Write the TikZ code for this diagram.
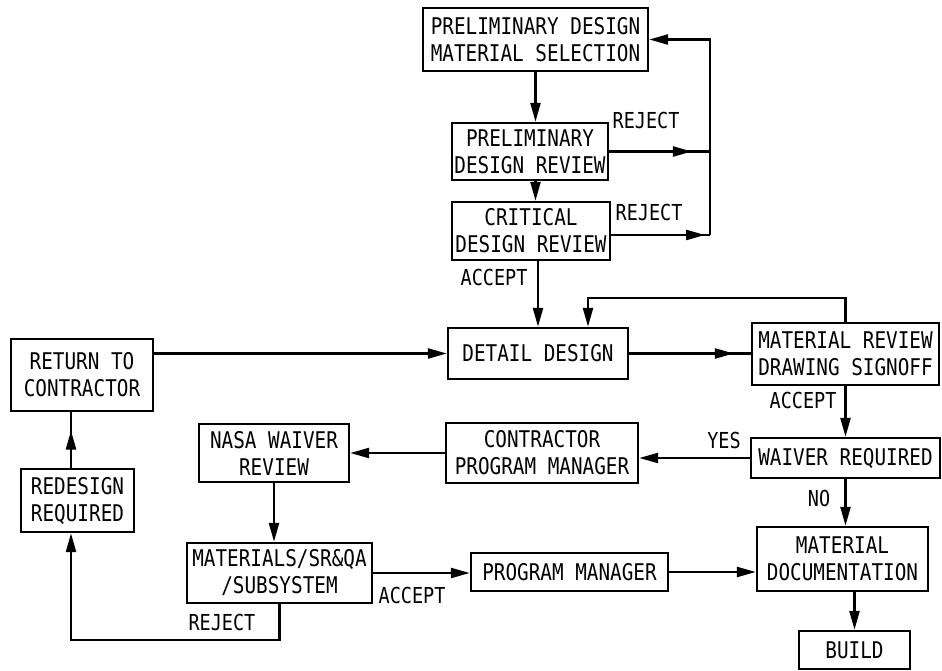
\documentclass[tikz,border=0pt]{standalone}
\usepackage{fontspec}
\usetikzlibrary{arrows.meta,decorations.markings}
\newfontfamily\chartfont[FakeStretch=0.84]{DejaVu Sans Mono}
\tikzset{
  box/.style n args={2}{draw,line width=2.4pt,inner sep=0pt,align=center,
    minimum width=#1,minimum height=#2,font={\fontsize{23}{27}\chartfont}},
  lbl/.style={font={\fontsize{22}{26}\chartfont}},
  link/.style={line width=2.4pt},
  arr/.style={link,-{Triangle[length=19pt,width=10pt]}},
  midarr/.style={link,postaction={decorate},decoration={markings,
    mark=at position #1 with {\arrow{Triangle[length=19pt,width=10pt]}}}},
}
\begin{document}
\begin{tikzpicture}[x=1pt,y=-1pt]
  \useasboundingbox (0,0) rectangle (942,671);
  % design chain
  \node[box={225pt}{63pt}] (pdms) at (535.5,39.5) {PRELIMINARY DESIGN\\MATERIAL SELECTION};
  \node[box={156pt}{57pt}] (pdr) at (530,151.5) {PRELIMINARY\\DESIGN REVIEW};
  \node[box={158pt}{58pt}] (cdr) at (531,231) {CRITICAL\\DESIGN REVIEW};
  \node[box={180pt}{51pt}] (dd) at (538,353.5) {DETAIL DESIGN};
  \node[box={187pt}{62pt}] (mrds) at (845.5,354) {MATERIAL REVIEW\\DRAWING SIGNOFF};
  \node[box={189pt}{40pt}] (wr) at (845.5,458) {WAIVER REQUIRED};
  \node[box={192pt}{60pt}] (cpm) at (542,453) {CONTRACTOR\\PROGRAM MANAGER};
  \node[box={150pt}{58pt}] (nwr) at (274,453) {NASA WAIVER\\REVIEW};
  \node[box={185pt}{60pt}] (mss) at (279.5,573) {MATERIALS/SR\&QA\\/SUBSYSTEM};
  \node[box={197pt}{38pt}] (pm) at (569.5,572) {PROGRAM MANAGER};
  \node[box={171pt}{64pt}] (md) at (842.5,559) {MATERIAL\\DOCUMENTATION};
  \node[box={111pt}{38pt}] (build) at (854.5,650) {BUILD};
  \node[box={142pt}{72pt}] (rtc) at (82,375) {RETURN TO\\CONTRACTOR};
  \node[box={113pt}{63pt}] (rr) at (77.5,500.5) {REDESIGN\\REQUIRED};
  % junctions
  \coordinate (jrej) at (710,235);
  \coordinate (jfb) at (588,298);
  \coordinate (jrr) at (71,640);
  % review loop
  \draw[arr] (pdms.south) -- (pdms.south |- pdr.north);
  \draw[arr] (pdms.south |- pdr.south) -- (pdms.south |- cdr.north);
  \draw[midarr=0.82] (pdr.east) -- (pdr.east -| jrej);
  \draw[midarr=0.95] (cdr.east |- jrej) -- (jrej);
  \draw[arr] (jrej) |- (pdms.east);
  \draw[arr] (cdr.south -| dd.north) -- (dd.north);
  % detail design and signoff
  \draw[midarr=0.86] (dd.east) -- (dd.east -| mrds.west);
  \draw[arr] (mrds.north) |- (jfb) -- (jfb |- dd.north);
  \draw[arr] (mrds.south) -- (wr.north);
  \draw[arr] (wr.west) -- (wr.west -| cpm.east);
  \draw[arr] (wr.south) -- (wr.south |- md.north);
  \draw[arr] (md.south -| build.north) -- (build.north);
  % waiver path
  \draw[arr] (cpm.west) -- (cpm.west -| nwr.east);
  \draw[arr] (nwr.south) -- (nwr.south |- mss.north);
  \draw[arr] (mss.east) -- (mss.east -| pm.west);
  \draw[arr] (pm.east) -- (pm.east -| md.west);
  \draw[arr] (mss.south) |- (jrr) -- (jrr |- rr.south);
  \draw[midarr=0.67] (jrr |- rr.north) -- (jrr |- rtc.south);
  \draw[arr] (dd.west -| rtc.east) -- (dd.west);
  % labels
  \node[lbl] (lrej1) at (646,120) {REJECT};
  \node[lbl] (lrej2) at (649,212) {REJECT};
  \node[lbl] (lacc1) at (494,277) {ACCEPT};
  \node[lbl] (lacc2) at (803,400) {ACCEPT};
  \node[lbl] (lyes) at (724,440) {YES};
  \node[lbl] (lno) at (819,498) {NO};
  \node[lbl] (lacc3) at (412,595) {ACCEPT};
  \node[lbl] (lrej3) at (222,622) {REJECT};
\end{tikzpicture}
\end{document}
